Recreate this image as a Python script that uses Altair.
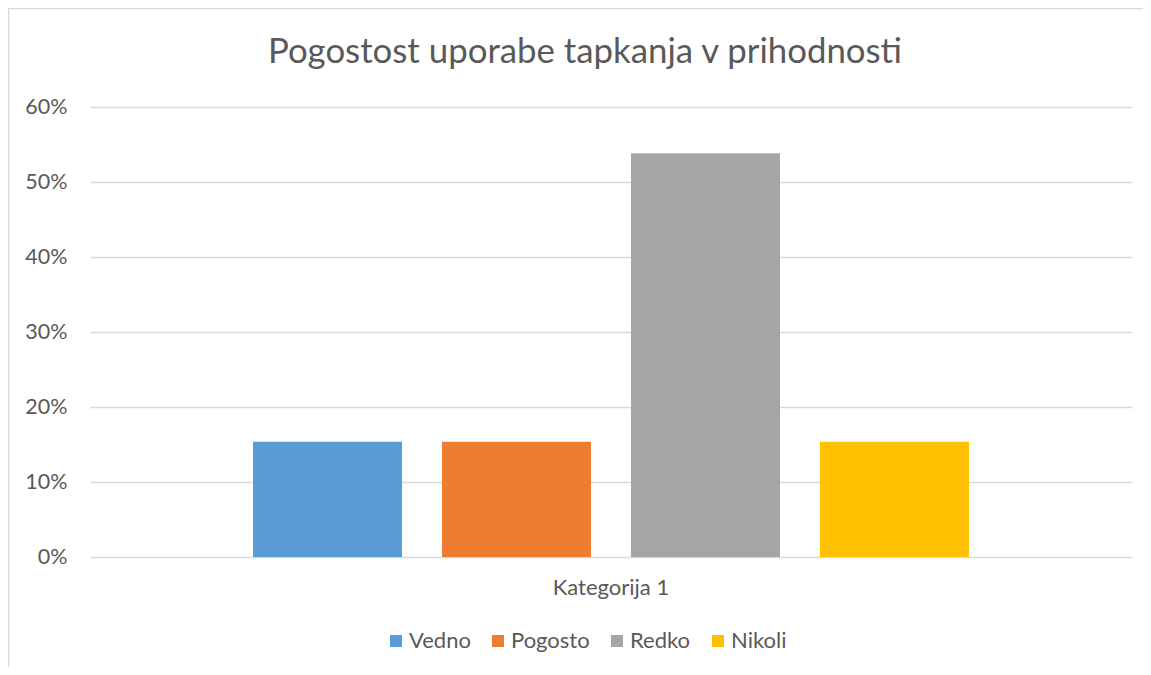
import altair as alt
import pandas as pd

categories = ["Kategorija 1"]
series = ["Vedno", "Pogosto", "Redko", "Nikoli"]
values = [0.1538, 0.1538, 0.5385, 0.1538]
colors = ["#5B9BD5", "#ED7D31", "#A5A5A5", "#FFC000"]
y_ticks = [0, 0.1, 0.2, 0.3, 0.4, 0.5, 0.6]
title_text = "Pogostost uporabe tapkanja v prihodnosti"

df = pd.DataFrame({
    "kategorija": [categories[0]] * len(series),
    "serija": series,
    "vrednost": values,
})

FONT = "Lato"
TXT = "#595959"

bars = alt.Chart(df).mark_bar().encode(
    x=alt.X("kategorija:N",
            scale=alt.Scale(paddingInner=0, paddingOuter=0.2277),
            axis=alt.Axis(title=None, labelAngle=0, labelFontSize=22, labelFont=FONT,
                          labelColor=TXT, labelPadding=20, ticks=False, domain=False)),
    xOffset=alt.XOffset("serija:N", sort=series,
                        scale=alt.Scale(paddingInner=0.2116, paddingOuter=0)),
    y=alt.Y("vrednost:Q",
            scale=alt.Scale(domain=[0, 0.6]),
            axis=alt.Axis(title=None, format=".0%", values=y_ticks, labelFontSize=21.5,
                          labelFont=FONT, labelColor=TXT, labelPadding=23, ticks=False,
                          domain=False, grid=True, gridColor="#D9D9D9", gridWidth=1.4)),
    color=alt.Color("serija:N", sort=series,
                    scale=alt.Scale(domain=series, range=colors),
                    legend=alt.Legend(title=None, orient="none", direction="horizontal",
                                      columns=4, legendX=295, legendY=523,
                                      symbolType="square", symbolSize=144,
                                      symbolStrokeWidth=0, labelFontSize=22,
                                      labelFont=FONT, labelColor=TXT, labelOffset=2,
                                      columnPadding=16)),
)

border = alt.Chart(pd.DataFrame({"a": [0]})).mark_rect(
    fillOpacity=0, stroke="#D9D9D9", strokeWidth=1.5
).encode(
    x=alt.value(-81.5), x2=alt.value(1100), y=alt.value(-98.5), y2=alt.value(700)
)

title = alt.Chart(pd.DataFrame({"t": [title_text]})).mark_text(
    font=FONT, fontSize=34.8, color=TXT, align="center", baseline="middle"
).encode(
    text="t:N", x=alt.value(495), y=alt.value(-54)
)

chart = alt.layer(border, bars, title).properties(
    width=1042, height=450,
    autosize=alt.AutoSizeParams(type="none"),
    padding={"left": 82, "top": 99, "right": 11, "bottom": 110},
).configure_view(stroke=None)

chart.save("out.html", embed_options={"renderer": "svg", "actions": False})
